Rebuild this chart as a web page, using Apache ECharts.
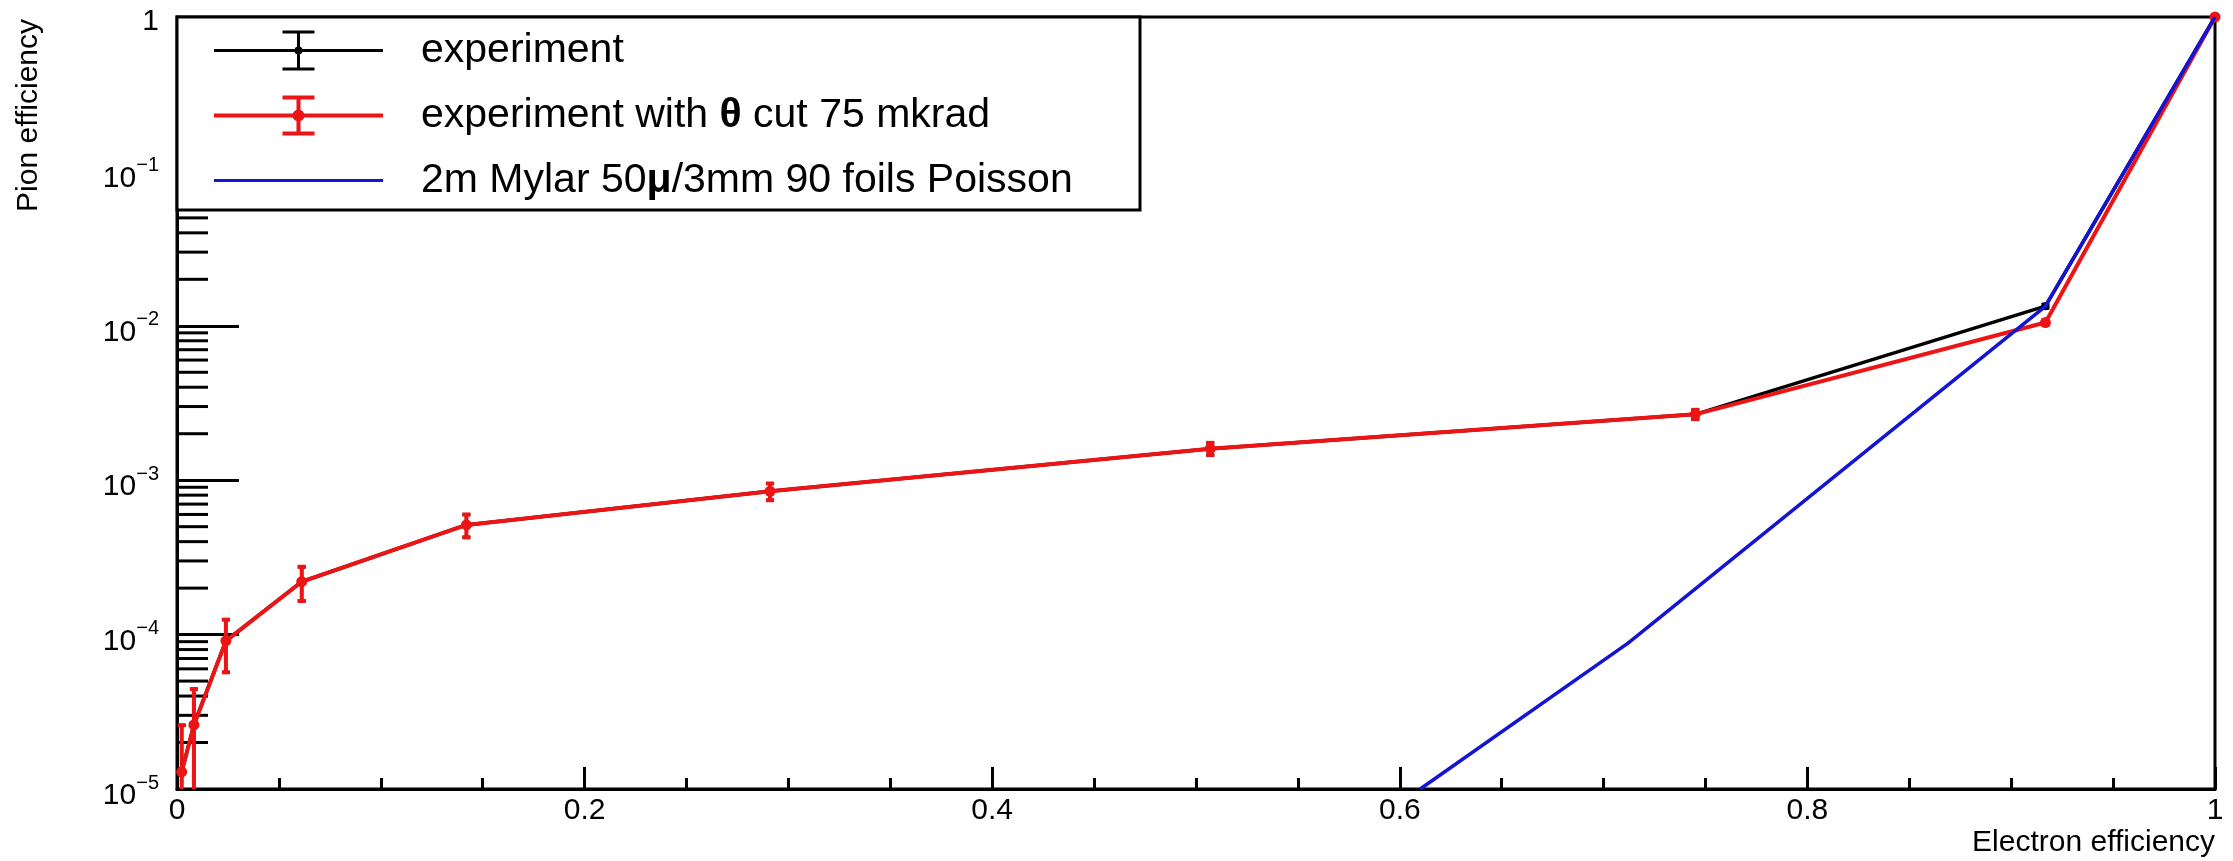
<!DOCTYPE html>
<html>
<head>
<meta charset="utf-8">
<script src="https://cdn.jsdelivr.net/npm/echarts@6/dist/echarts.min.js"></script>
<style>
html,body{margin:0;padding:0;background:#fff;}
#chart{width:2233px;height:861px;}
</style>
</head>
<body>
<div id="chart"></div>
<script>
// ---------------- data ----------------
const seriesNames = ['experiment', 'experiment with \u03b8 cut 75 mkrad', '2m Mylar 50\u03bc/3mm 90 foils Poisson'];

// electron efficiency of the experimental working points
const electronEff = [0.0023, 0.0083, 0.024, 0.0612, 0.142, 0.291, 0.507, 0.745, 0.9168, 1.0];

// pion efficiency, experiment (black)
const pionEffExp = [1.29e-5, 2.6e-5, 9.1e-5, 2.2e-4, 5.13e-4, 8.47e-4, 1.60e-3, 2.67e-3, 1.34e-2, 1.0];
const pionErrExp = [1.29e-5, 1.84e-5, 3.4e-5, 5.4e-5, 8.5e-5, 1.05e-4, 1.45e-4, 1.85e-4, 4.1e-4, 0];

// pion efficiency, experiment with theta cut (red)
const pionEffCut = [1.29e-5, 2.6e-5, 9.1e-5, 2.2e-4, 5.13e-4, 8.47e-4, 1.60e-3, 2.67e-3, 1.05e-2, 1.0];
const pionErrCut = [1.3e-5, 1.84e-5, 3.4e-5, 5.5e-5, 8.7e-5, 1.05e-4, 1.45e-4, 1.85e-4, 3.7e-4, 0];

// Poisson simulation (blue)
const poissonElectronEff = [0.610, 0.712, 0.9166, 1.0];
const poissonPionEff = [1.0e-5, 8.8e-5, 1.33e-2, 1.0];

// axes
const xTickLabels = ['0', '0.2', '0.4', '0.6', '0.8', '1'];
const yTickExponents = [-5, -4, -3, -2, -1, 0];
const yMinorMultipliers = [2, 3, 4, 5, 6, 7, 8, 9];

const X_MIN = 0, X_MAX = 1, Y_MIN = 1e-5, Y_MAX = 1;
const FONT = '"Liberation Sans", Arial, Helvetica, sans-serif';
const BLACK = '#000000', RED = '#ec1414', BLUE = '#1414d4';

// ---------------- helpers ----------------
function pairs(xs, ys) { return xs.map((x, i) => [x, ys[i]]); }

function errorBars(name, xs, ys, errs, color, width, z) {
  return {
    type: 'custom', name: name, silent: true, clip: true, z: z,
    encode: { x: 0, y: 1 },
    data: xs.map((x, i) => [x, ys[i], errs[i]]),
    renderItem: function (params, api) {
      const x = api.value(0), y = api.value(1), e = api.value(2);
      if (!e) return null;
      const lowClipped = (y - e) <= Y_MIN;
      const lo = lowClipped ? Y_MIN : y - e;
      const p1 = api.coord([x, y + e]);
      const p2 = api.coord([x, lo]);
      const cap = 4;
      const st = { stroke: color, lineWidth: width };
      const children = [
        { type: 'line', shape: { x1: p1[0], y1: p1[1], x2: p2[0], y2: p2[1] }, style: st },
        { type: 'line', shape: { x1: p1[0] - cap, y1: p1[1], x2: p1[0] + cap, y2: p1[1] }, style: st }
      ];
      if (!lowClipped) {
        children.push({ type: 'line', shape: { x1: p2[0] - cap, y1: p2[1], x2: p2[0] + cap, y2: p2[1] }, style: st });
      }
      return { type: 'group', children: children };
    }
  };
}

const minorTickData = [];
yTickExponents.slice(0, -1).forEach(function (ex) {
  yMinorMultipliers.forEach(function (m) { minorTickData.push([X_MIN, m * Math.pow(10, ex)]); });
});

// legend icons (line + error bar + marker)
const iconBlack = 'path://M0,18.5h169v3h-169z M83,0h3v40h-3z M68.5,0h32v3h-32z M68.5,37h32v3h-32z M80.5,20a4,4 0 1,1 8,0a4,4 0 1,1 -8,0z';
const iconRed = 'path://M0,18h169v4h-169z M82.5,0h4v40h-4z M68.5,0h32v4h-32z M68.5,36h32v4h-32z M78.5,20a6,6 0 1,1 12,0a6,6 0 1,1 -12,0z';
const iconBlue = 'path://M0,18.5h169v3h-169z';

const chart = echarts.init(document.getElementById('chart'), null, { renderer: 'canvas' });

const option = {
  backgroundColor: '#ffffff',
  animation: false,
  textStyle: { fontFamily: FONT },
  grid: {
    left: 177, right: 18, top: 17, bottom: 72,
    show: true, borderColor: BLACK, borderWidth: 3, backgroundColor: 'transparent'
  },
  xAxis: {
    type: 'value', min: X_MIN, max: X_MAX, interval: 0.2,
    name: 'Electron efficiency', nameLocation: 'end', nameGap: 0,
    nameTextStyle: { fontFamily: FONT, fontSize: 30, color: BLACK, align: 'right', verticalAlign: 'top', padding: [39, 0, 0, 0] },
    splitLine: { show: false },
    axisLine: { show: true, onZero: false, lineStyle: { color: BLACK, width: 3 } },
    axisTick: { show: true, inside: true, length: 22, lineStyle: { color: BLACK, width: 3 } },
    minorTick: { show: true, splitNumber: 4, length: 11, lineStyle: { color: BLACK, width: 3 } },
    axisLabel: {
      fontFamily: FONT, fontSize: 30, color: BLACK, margin: 7,
      formatter: function (v) { return xTickLabels[Math.round(v / 0.2)]; }
    }
  },
  yAxis: {
    type: 'log', logBase: 10, min: Y_MIN, max: Y_MAX, splitNumber: 5,
    splitLine: { show: false },
    axisLine: { show: true, onZero: false, lineStyle: { color: BLACK, width: 3 } },
    axisTick: { show: true, inside: true, length: 62, lineStyle: { color: BLACK, width: 3 } },
    axisLabel: {
      margin: 18, color: BLACK,
      formatter: function (v) {
        const ex = Math.round(Math.log10(v));
        if (yTickExponents.indexOf(ex) < 0) return '';
        if (ex === 0) return '{one|1}';
        return '{b|10}{s|\u2212' + (-ex) + '}';
      },
      rich: {
        one: { fontFamily: FONT, fontSize: 30, color: BLACK, padding: [10, 0, 0, 0] },
        b: { fontFamily: FONT, fontSize: 30, color: BLACK, lineHeight: 32, padding: [14, 0, 0, 0] },
        s: { fontFamily: FONT, fontSize: 20, color: BLACK, lineHeight: 20, verticalAlign: 'top' }
      }
    }
  },
  legend: {
    orient: 'vertical', left: 214, top: 30, padding: 0,
    itemWidth: 169, itemHeight: 40, itemGap: 24, symbolKeepAspect: true,
    selectedMode: false, z: 6,
    itemStyle: { borderWidth: 0 },
    textStyle: {
      fontFamily: FONT, fontSize: 41, color: BLACK, lineHeight: 40, padding: [0, 0, 0, 33],
      rich: { g: { fontFamily: FONT, fontSize: 41, fontWeight: 'bold', color: BLACK, lineHeight: 40 } }
    },
    formatter: function (name) {
      return name.replace('\u03b8', '{g|\u03b8}').replace('\u03bc', '{g|\u03bc}');
    },
    data: [
      { name: seriesNames[0], icon: iconBlack, itemStyle: { color: BLACK } },
      { name: seriesNames[1], icon: iconRed, itemStyle: { color: RED } },
      { name: seriesNames[2], icon: iconBlue, itemStyle: { color: BLUE } }
    ]
  },
  graphic: [
    {
      type: 'rect', z: 5, silent: true,
      shape: { x: 177, y: 17, width: 963, height: 193 },
      style: { fill: '#ffffff', stroke: BLACK, lineWidth: 3 }
    },
    {
      type: 'text', z: 5, silent: true, x: 29, y: 19, rotation: Math.PI / 2,
      style: { text: 'Pion efficiency', fontFamily: FONT, fontSize: 30, fill: BLACK, align: 'right', verticalAlign: 'middle' }
    }
  ],
  series: [
    {
      type: 'custom', name: 'yMinorTicks', silent: true, z: 1, clip: false,
      encode: { x: 0, y: 1 },
      data: minorTickData,
      renderItem: function (params, api) {
        const p = api.coord([api.value(0), api.value(1)]);
        return { type: 'line', shape: { x1: p[0], y1: p[1], x2: p[0] + 31, y2: p[1] }, style: { stroke: BLACK, lineWidth: 3 } };
      }
    },
    errorBars('expErr', electronEff, pionEffExp, pionErrExp, BLACK, 3, 2),
    {
      type: 'line', name: seriesNames[0], z: 2,
      data: pairs(electronEff, pionEffExp),
      symbol: 'circle', symbolSize: 8, showAllSymbol: true, clip: true,
      itemStyle: { color: BLACK },
      lineStyle: { color: BLACK, width: 3.5 }
    },
    errorBars('cutErr', electronEff, pionEffCut, pionErrCut, RED, 4, 3),
    {
      type: 'line', name: seriesNames[1], z: 3,
      data: pairs(electronEff, pionEffCut),
      symbol: 'circle', symbolSize: 11, showAllSymbol: true, clip: true,
      itemStyle: { color: RED },
      lineStyle: { color: RED, width: 4 }
    },
    {
      type: 'line', name: seriesNames[2], z: 4,
      data: pairs(poissonElectronEff, poissonPionEff),
      symbol: 'none', clip: true,
      itemStyle: { color: BLUE },
      lineStyle: { color: BLUE, width: 3.5 }
    }
  ]
};

chart.setOption(option);
</script>
</body>
</html>
